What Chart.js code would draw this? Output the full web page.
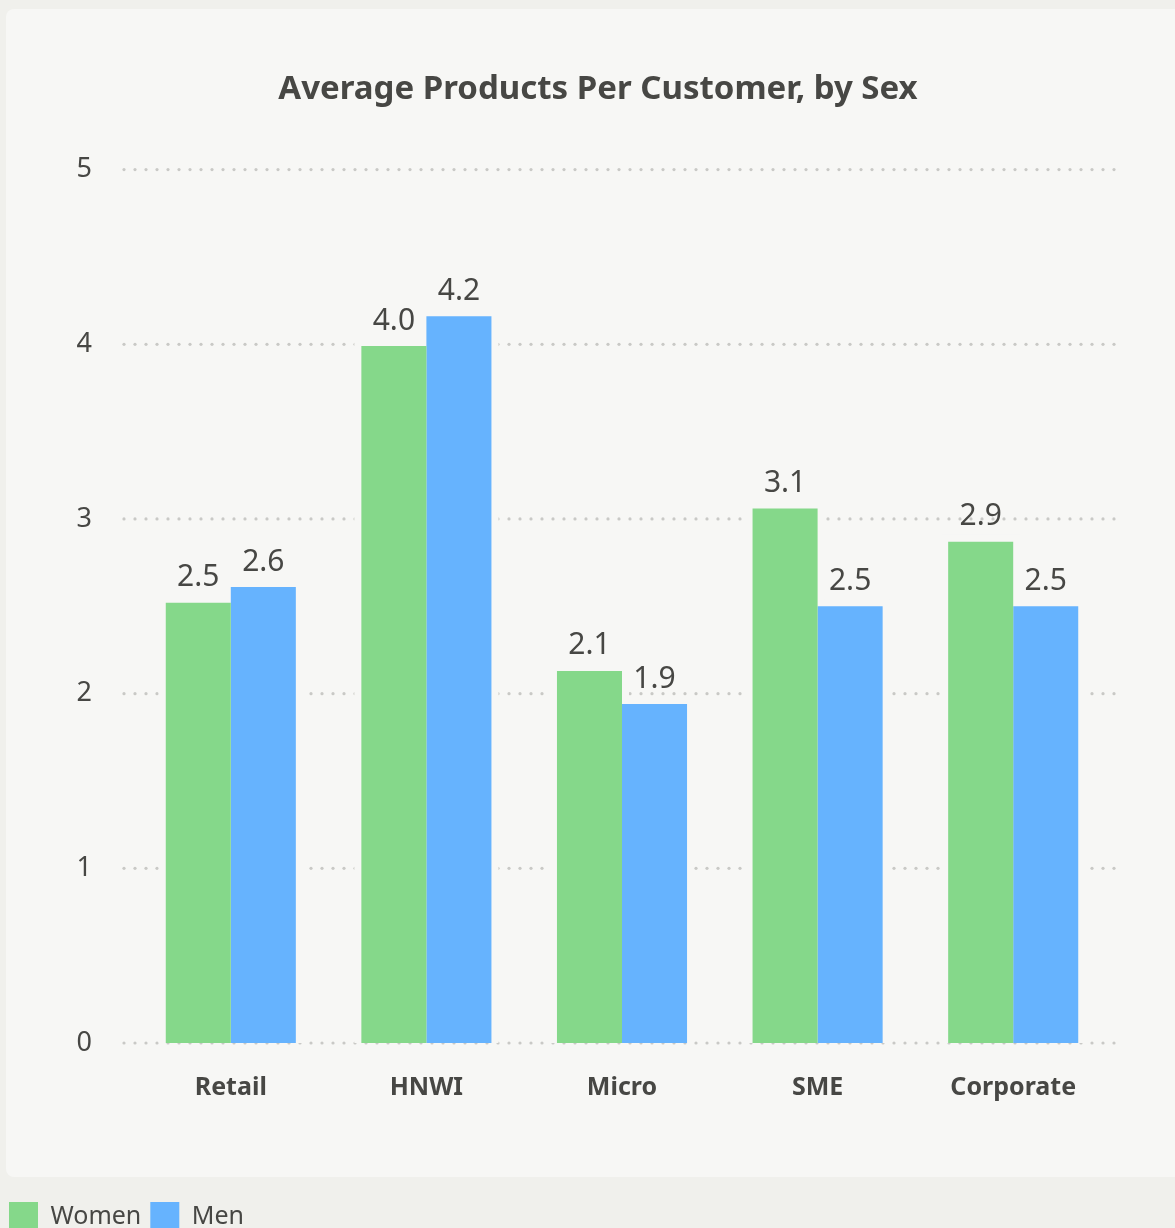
<!DOCTYPE html>
<html>
<head>
<meta charset="utf-8">
<script src="https://cdn.jsdelivr.net/npm/chart.js@4/dist/chart.umd.min.js"></script>
<style>
  html, body { margin: 0; padding: 0; background: #f0f0ec; overflow: hidden; width: 1175px; height: 1228px; }
  #panel { position: absolute; left: 6px; top: 9px; width: 1180px; height: 1168px; background: #f7f7f5; border-radius: 8px; }
  #wrap { position: absolute; left: 0; top: 0; width: 1196px; height: 1245px; }
</style>
</head>
<body>
<div id="panel"></div>
<div id="wrap"><canvas id="chart"></canvas></div>
<script>
const categories = ["Retail", "HNWI", "Micro", "SME", "Corporate"];
const womenValues = [2.52, 3.99, 2.13, 3.06, 2.87];
const menValues = [2.61, 4.16, 1.94, 2.5, 2.5];
const yTicks = [0, 1, 2, 3, 4, 5];

const panelBg = "#f7f7f5";
const textColor = "#474744";
const fontFamily = "'Noto Sans', 'Open Sans', sans-serif";

// dotted gridlines that stop a little short of each bar, plus value labels
const gridAndHalo = {
  id: "gridAndHalo",
  beforeDatasetsDraw(chart) {
    const ctx = chart.ctx;
    const y = chart.scales.y;
    ctx.save();
    ctx.fillStyle = "#c9c9c6";
    yTicks.forEach(v => {
      const py = y.getPixelForValue(v);
      for (let x = 124; x <= 1123; x += 11) {
        ctx.beginPath();
        ctx.arc(x, py, 1.6, 0, Math.PI * 2);
        ctx.fill();
      }
    });
    ctx.fillStyle = panelBg;
    chart.data.datasets.forEach((ds, i) => {
      chart.getDatasetMeta(i).data.forEach(bar => {
        const w = bar.width;
        ctx.fillRect(bar.x - w / 2 - 7, bar.y - 7, w + 14, bar.base - bar.y + 7);
      });
    });
    ctx.restore();
  },
  afterDatasetsDraw(chart) {
    const ctx = chart.ctx;
    ctx.save();
    ctx.fillStyle = textColor;
    ctx.font = "30px " + fontFamily;
    ctx.textAlign = "center";
    ctx.textBaseline = "bottom";
    chart.data.datasets.forEach((ds, i) => {
      chart.getDatasetMeta(i).data.forEach((bar, j) => {
        ctx.fillText(ds.data[j].toFixed(1), bar.x, bar.y - 10);
      });
    });
    ctx.restore();
  }
};

new Chart(document.getElementById("chart"), {
  type: "bar",
  data: {
    labels: categories,
    datasets: [
      { label: "Women", data: womenValues, backgroundColor: "#85d88a" },
      { label: "Men", data: menValues, backgroundColor: "#66b3fe" }
    ]
  },
  options: {
    responsive: true,
    maintainAspectRatio: false,
    animation: false,
    datasets: { bar: { categoryPercentage: 0.665, barPercentage: 1.0 } },
    layout: { padding: { left: 0, right: 0, top: 0, bottom: 4 } },
    plugins: {
      title: {
        display: true,
        text: "Average Products Per Customer, by Sex",
        color: textColor,
        font: { family: fontFamily, size: 33, weight: "bold" },
        padding: { top: 70, bottom: 60 }
      },
      legend: {
        position: "bottom",
        align: "start",
        labels: {
          color: textColor,
          font: { family: fontFamily, size: 25 },
          boxWidth: 29,
          boxHeight: 29,
          padding: 9
        }
      },
      tooltip: { enabled: false }
    },
    scales: {
      x: {
        grid: { display: false },
        border: { display: false },
        ticks: { color: textColor, font: { family: fontFamily, size: 25, weight: "bold" }, padding: 22 },
        afterFit(scale) { scale.height += 68; }
      },
      y: {
        min: 0,
        max: 5,
        grid: { display: false },
        border: { display: false },
        ticks: { stepSize: 1, color: textColor, font: { family: fontFamily, size: 27 }, padding: 33 },
        afterFit(scale) { scale.width = 133; }
      },
      yRight: {
        position: "right",
        display: true,
        min: 0,
        max: 5,
        grid: { display: false },
        border: { display: false },
        ticks: { display: false },
        afterFit(scale) { scale.width = 85; }
      }
    }
  },
  plugins: [gridAndHalo]
});
</script>
</body>
</html>
